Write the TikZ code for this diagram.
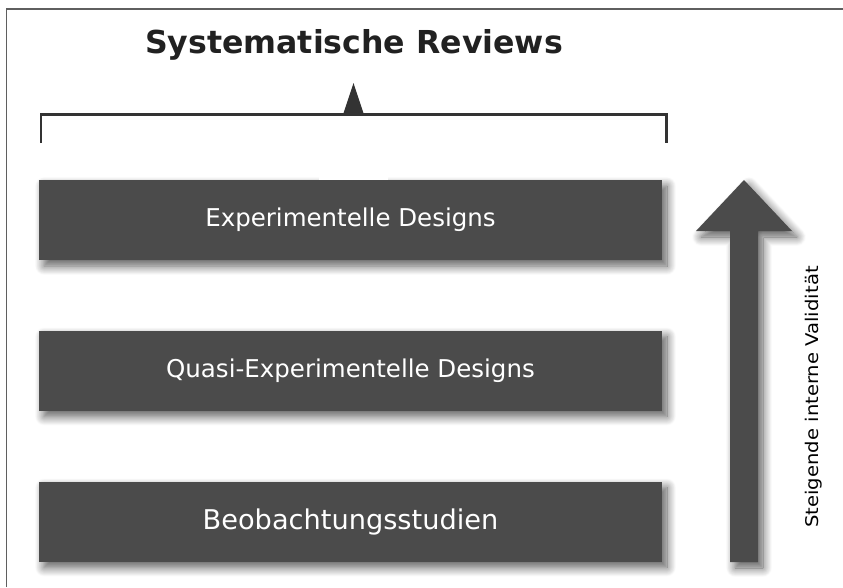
\documentclass[tikz,border=0pt]{standalone}
\usepackage{fontspec}
\setmainfont{DejaVu Sans}
\usepackage{graphicx}
\usetikzlibrary{shadows.blur}
\definecolor{boxgray}{RGB}{75,75,75}
\definecolor{linegray}{RGB}{51,51,51}
\definecolor{framegray}{RGB}{95,95,95}
\tikzset{
  softshadow/.style={blur shadow={shadow xshift=5pt, shadow yshift=-6pt,
    shadow blur radius=9pt, shadow blur steps=14, shadow opacity=65}},
  designbox/.style={fill=boxgray, text=white, minimum width=623pt,
    minimum height=80pt, inner sep=0pt, softshadow},
}
\begin{document}
\begin{tikzpicture}[x=1pt,y=-1pt]
\useasboundingbox (0,0) rectangle (843,587);
% frame
\draw[framegray, line width=1.5pt] (6.5,587) -- (6.5,9) -- (843,9);
% title and bracket
\node[anchor=base, text=black!87,
  font=\bfseries\fontsize{31.6}{36}\selectfont] (title) at (354,53) {Systematische Reviews};
\coordinate (bl) at (41,143);
\coordinate (br) at (666.7,143);
\draw[linegray, line width=2.7pt] (bl) -- (41,114.7) -- (666.7,114.7) -- (br);
\fill[linegray] (343,114.7) -- (353.5,83) -- (364,114.7) -- cycle;
% study designs
\foreach \y/\name/\fs/\txt in {220/exp/24.5/Experimentelle Designs,
  370.5/quasi/24.5/Quasi-Experimentelle Designs,
  521.5/beob/27.2/Beobachtungsstudien} {
  \node[designbox, font=\fontsize{\fs}{\fs}\selectfont] (\name) at (350.5,\y) {\txt};
};
\fill[white] (319,166) rectangle (388,180);
% validity arrow
\fill[boxgray, softshadow] (730,562) -- (730,231) -- (696,231) -- (744,180)
  -- (792,231) -- (758,231) -- (758,562) -- cycle;
\node[rotate=90, anchor=base, font=\fontsize{17.5}{17.5}\selectfont] (valid) at (818.3,397)
  {\scalebox{1.12}[1]{Steigende interne Validität}};
\end{tikzpicture}
\end{document}
